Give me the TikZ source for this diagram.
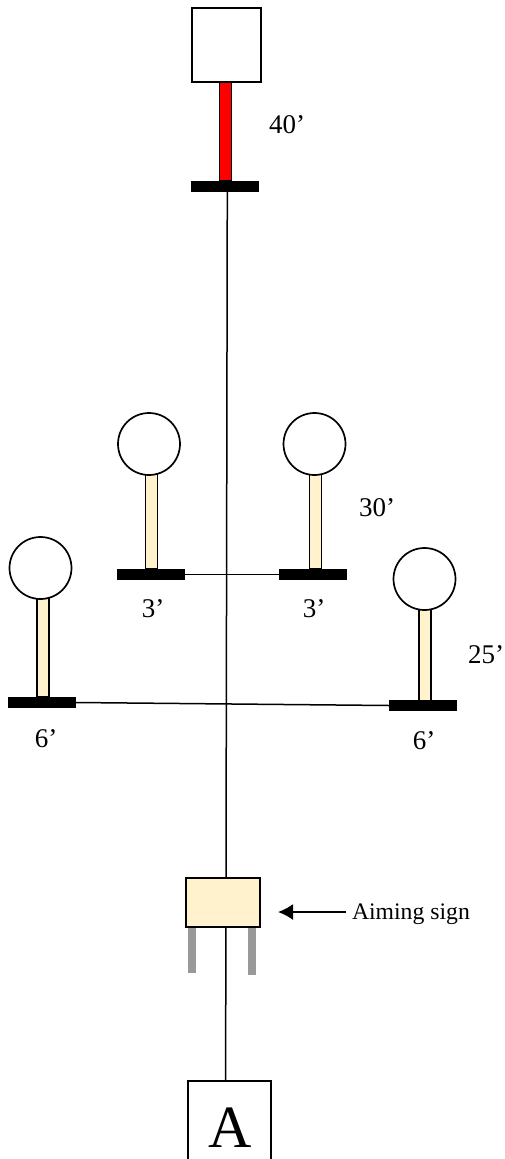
\documentclass[tikz,border=0pt]{standalone}
\usepackage{fontspec}
\setmainfont{Liberation Serif}
\usetikzlibrary{arrows.meta}
\definecolor{postcream}{RGB}{255,242,204}
\definecolor{postred}{RGB}{255,0,0}
\definecolor{leggray}{RGB}{153,153,153}
\tikzset{
    box/.style={draw, line width=1.7pt, rectangle, inner sep=0pt, outer sep=0pt},
    head/.style={box, circle, fill=white, minimum size=62pt},
    post/.style={box, fill=postcream, minimum width=12pt},
    base/.style={rectangle, fill=black, inner sep=0pt, outer sep=0pt, minimum width=68pt, minimum height=11pt},
    leg/.style={rectangle, fill=leggray, inner sep=0pt, outer sep=0pt, minimum width=8pt},
    dist/.style={inner sep=0pt, outer sep=0pt, font=\fontsize{27}{30}\selectfont},
    link/.style={line width=1.5pt}
}
\begin{document}
\begin{tikzpicture}[x=1pt, y=-1pt]
                \useasboundingbox (0,0) rectangle (504,1159);
                % far target
                \node[box, fill=white, minimum width=69pt, minimum height=74pt] (topsign) at (226.5,45) {};
                \node[post, fill=postred, minimum height=99pt] (toppost) at (225.5,131.5) {};
                \node[base] (topbase) at (225,186.5) {};
                \node[dist, anchor=west] (topdist) at (269,125) {40’};
                % middle pair
                \node[post, minimum height=96pt] (midlpost) at (151.5,521) {};
                \node[post, minimum height=96pt] (midrpost) at (315.5,521) {};
                \node[head] (midlhead) at (149,444) {};
                \node[head] (midrhead) at (314.5,444) {};
                \node[base] (midlbase) at (150.5,574.5) {};
                \node[base] (midrbase) at (313,574.5) {};
                \node[dist] (midldist) at (153,609) {3’};
                \node[dist] (midrdist) at (314,609) {3’};
                \node[dist, anchor=west] (middist) at (359,508) {30’};
                % near pair
                \node[post, minimum height=100pt] (nearlpost) at (42.7,647) {};
                \node[post, minimum height=93pt] (nearrpost) at (424.7,654.5) {};
                \node[head] (nearlhead) at (40.5,568) {};
                \node[head] (nearrhead) at (424.5,579) {};
                \node[base] (nearlbase) at (42,702.5) {};
                \node[base] (nearrbase) at (423,705.5) {};
                \node[dist] (nearldist) at (46,739) {6’};
                \node[dist] (nearrdist) at (424,741) {6’};
                \node[dist, anchor=west] (neardist) at (468,655) {25’};
                % aiming sign
                \node[leg, minimum height=46pt] (legl) at (192,950) {};
                \node[leg, minimum height=48pt] (legr) at (252,951) {};
                \node[box, fill=postcream, minimum width=74pt, minimum height=49pt] (aimsign) at (223,902.5) {};
                \node[dist, anchor=west, font=\fontsize{23.7}{28}\selectfont] (aimlabel) at (352,914) {Aiming sign};
                \coordinate (aimtip) at (278,912);
                % shooter
                \node[box, fill=white, minimum width=83pt, minimum height=90pt] (shooter) at (229.5,1126) {};
                \node[inner sep=0pt, font=\fontsize{60}{66}\selectfont] (shooterlabel) at (230,1128) {A};
                % lines
                \draw[link] ([xshift=2.3pt]topbase.south) -- ([xshift=3pt]aimsign.north);
                \draw[link] (midlbase) -- (midrbase);
                \draw[link] (nearlbase.east) -- (nearrbase.west);
                \draw[link] ([xshift=3pt]aimsign.south) -- ([xshift=-4pt]shooter.north);
                \draw[-{Latex[length=15pt,width=16pt]}, line width=1.8pt] ([xshift=-6pt,yshift=2pt]aimlabel.west) -- (aimtip);
            \end{tikzpicture}
\end{document}
